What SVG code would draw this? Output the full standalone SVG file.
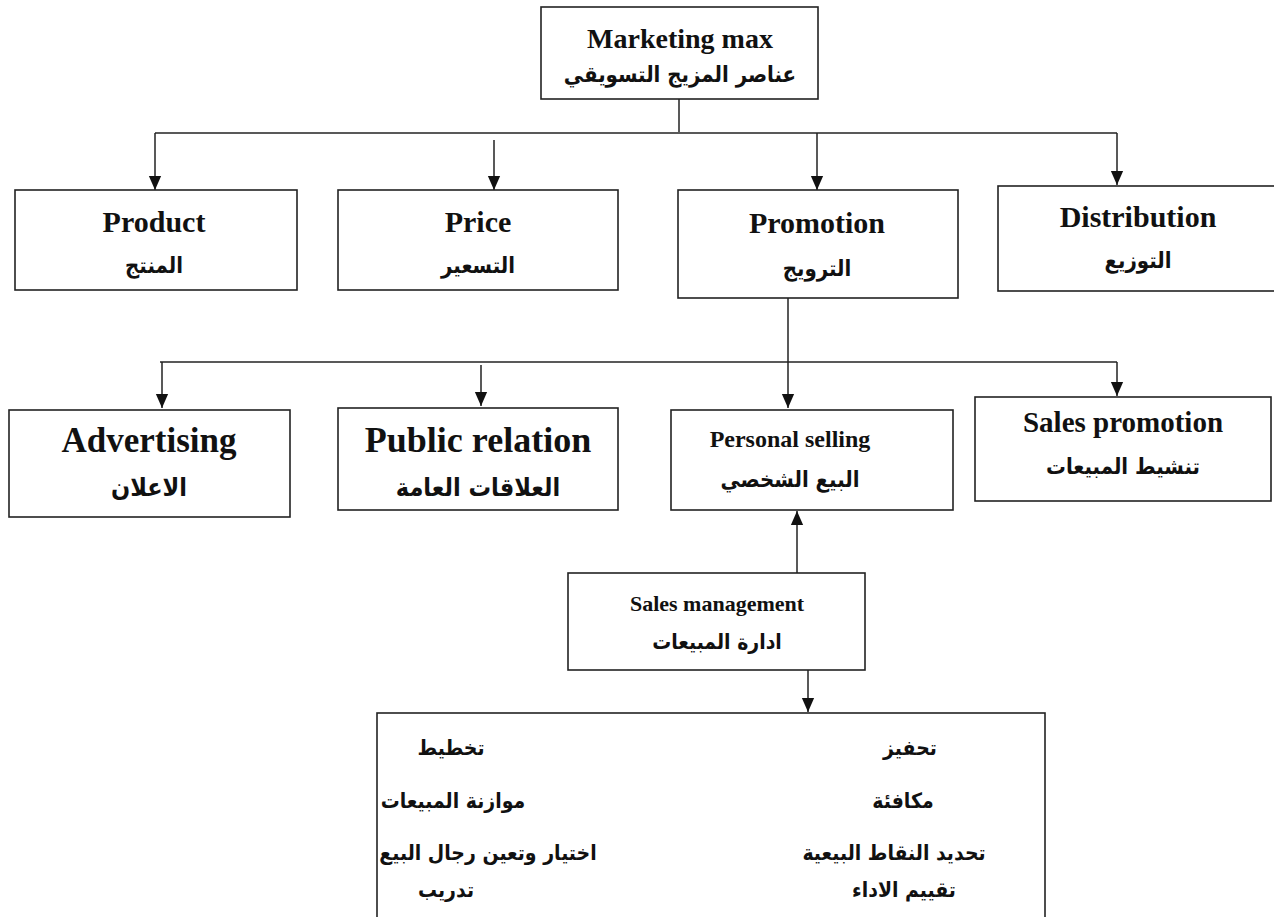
<svg xmlns="http://www.w3.org/2000/svg" width="1274" height="917" viewBox="0 0 1274 917">
<style>
.box{fill:#fff;stroke:#222;stroke-width:1.6}
.en{font-family:"Liberation Serif","Times New Roman",serif;font-weight:bold;fill:#111;text-anchor:middle}
.ar{font-family:"DejaVu Sans Condensed","DejaVu Sans","Noto Sans",sans-serif;font-weight:bold;fill:#111;text-anchor:middle}
.ln{fill:none;stroke:#222;stroke-width:1.5}
</style>
<defs>
<marker id="ahd" markerWidth="14" markerHeight="16" refX="16" refY="7" orient="auto" markerUnits="userSpaceOnUse" viewBox="0 0 16 14">
<path d="M0,0 L16,7 L0,14 Z" fill="#111"/>
</marker>
</defs>
<rect width="1274" height="917" fill="#fff"/>

<g id="connectors">
<path class="ln" d="M679,99 V132"/>
<path class="ln" d="M155,133 H1117"/>
<path class="ln" d="M155,133 V190" marker-end="url(#ahd)"/>
<path class="ln" d="M494,140 V190" marker-end="url(#ahd)"/>
<path class="ln" d="M817,133 V190" marker-end="url(#ahd)"/>
<path class="ln" d="M1117,133 V185" marker-end="url(#ahd)"/>
<path class="ln" d="M788,298 V408" marker-end="url(#ahd)"/>
<path class="ln" d="M160,362 H1117"/>
<path class="ln" d="M162,362 V408" marker-end="url(#ahd)"/>
<path class="ln" d="M481,365 V406" marker-end="url(#ahd)"/>
<path class="ln" d="M1117,362 V396" marker-end="url(#ahd)"/>
<path class="ln" d="M797,573 V511" marker-end="url(#ahd)"/>
<path class="ln" d="M808,670 V712" marker-end="url(#ahd)"/>
</g>

<g id="marketing-mix">
<rect class="box" x="541" y="7" width="277" height="92"/>
<text class="en" x="680" y="48" font-size="28">Marketing max</text>
<text class="ar" x="680" y="82" font-size="22">عناصر المزيج التسويقي</text>
</g>

<g id="product">
<rect class="box" x="15" y="190" width="282" height="100"/>
<text class="en" x="154" y="232" font-size="30">Product</text>
<text class="ar" x="154" y="273" font-size="22">المنتج</text>
</g>

<g id="price">
<rect class="box" x="338" y="190" width="280" height="100"/>
<text class="en" x="478" y="232" font-size="30">Price</text>
<text class="ar" x="478" y="273" font-size="22">التسعير</text>
</g>

<g id="promotion">
<rect class="box" x="678" y="190" width="280" height="108"/>
<text class="en" x="817" y="233" font-size="30">Promotion</text>
<text class="ar" x="817" y="276" font-size="22">الترويج</text>
</g>

<g id="distribution">
<rect class="box" x="998" y="186" width="290" height="105"/>
<text class="en" x="1138" y="227" font-size="30">Distribution</text>
<text class="ar" x="1138" y="268" font-size="22">التوزيع</text>
</g>

<g id="advertising">
<rect class="box" x="9" y="410" width="281" height="107"/>
<text class="en" x="149" y="452" font-size="35">Advertising</text>
<text class="ar" x="149" y="496" font-size="25">الاعلان</text>
</g>

<g id="public-relation">
<rect class="box" x="338" y="408" width="280" height="102"/>
<text class="en" x="478" y="452" font-size="36">Public relation</text>
<text class="ar" x="478" y="496" font-size="25">العلاقات العامة</text>
</g>

<g id="personal-selling">
<rect class="box" x="671" y="410" width="282" height="100"/>
<text class="en" x="790" y="447" font-size="24">Personal selling</text>
<text class="ar" x="790" y="487" font-size="22">البيع الشخصي</text>
</g>

<g id="sales-promotion">
<rect class="box" x="975" y="397" width="296" height="104"/>
<text class="en" x="1123" y="432" font-size="29">Sales promotion</text>
<text class="ar" x="1123" y="474" font-size="22">تنشيط المبيعات</text>
</g>

<g id="sales-management">
<rect class="box" x="568" y="573" width="297" height="97"/>
<text class="en" x="717" y="611" font-size="22">Sales management</text>
<text class="ar" x="717" y="649" font-size="21">ادارة المبيعات</text>
</g>

<g id="sales-management-tasks">
<rect class="box" x="377" y="713" width="668" height="220"/>
<text class="ar" x="451" y="755" font-size="21">تخطيط</text>
<text class="ar" x="453" y="808" font-size="21">موازنة المبيعات</text>
<text class="ar" x="488" y="860" font-size="21">اختيار وتعين رجال البيع</text>
<text class="ar" x="446" y="897" font-size="21">تدريب</text>
<text class="ar" x="910" y="755" font-size="21">تحفيز</text>
<text class="ar" x="903" y="808" font-size="21">مكافئة</text>
<text class="ar" x="894" y="860" font-size="21">تحديد النقاط البيعية</text>
<text class="ar" x="904" y="897" font-size="21">تقييم الاداء</text>
</g>
</svg>
